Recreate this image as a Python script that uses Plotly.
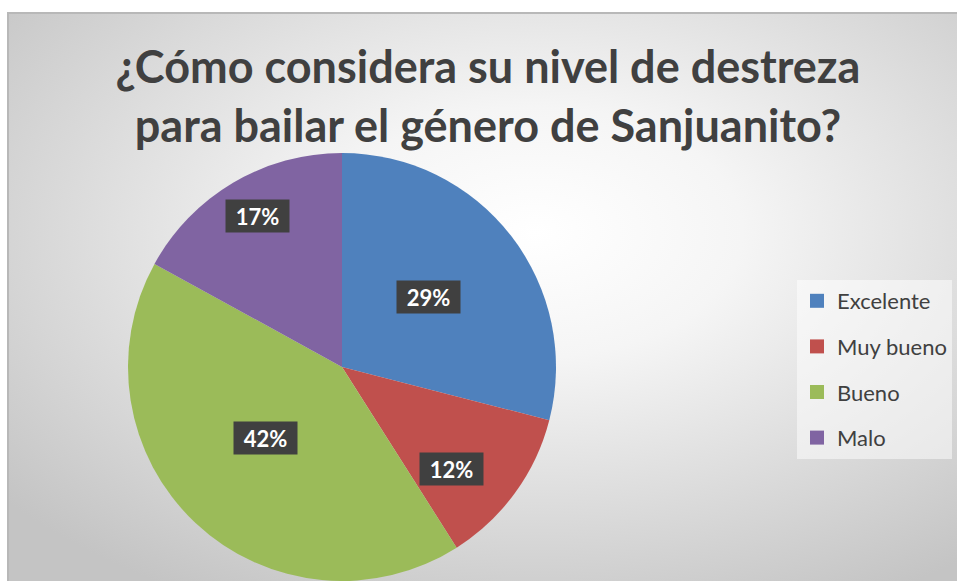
import base64
import math
import plotly.graph_objects as go

categories = ["Excelente", "Muy bueno", "Bueno", "Malo"]
percentages = [29, 12, 42, 17]
colors = ["#4f81bd", "#c0504d", "#9bbb59", "#8064a2"]

W, H = 957, 581


def px_x(sx):
    return sx / W


def px_y(sy):
    return 1 - sy / H


# pie placement in screen pixels (bottom touches the window edge)
cx, cy, r = 342, 367, 214
# excel "best fit" label spots: fraction of radius and small angle nudge
label_dist = [0.52, 0.70, 0.49, 0.81]
label_nudge = [-1, 7, 4, 1.5]

# radial gradient background like excel
svg = (
    '<svg xmlns="http://www.w3.org/2000/svg" width="960" height="580" preserveAspectRatio="none">'
    '<defs><radialGradient id="g" cx="0.55" cy="0.38" r="0.72">'
    '<stop offset="0" stop-color="#ffffff"/><stop offset="0.3" stop-color="#f5f5f5"/>'
    '<stop offset="1" stop-color="#c4c4c4"/></radialGradient></defs>'
    '<rect x="0" y="0" width="960" height="580" fill="url(#g)"/>'
    '<path d="M1 580 V1 H960" fill="none" stroke="#b8b8b8" stroke-width="2"/></svg>'
)
bg_src = "data:image/svg+xml;base64," + base64.b64encode(svg.encode()).decode()

fig = go.Figure()

fig.add_trace(go.Pie(
    labels=categories,
    values=percentages,
    sort=False,
    direction="clockwise",
    rotation=0,
    marker=dict(colors=colors, line=dict(width=0)),
    textinfo="none",
    hoverinfo="label+percent",
    showlegend=False,
    domain=dict(x=[px_x(cx - r), px_x(cx + r)], y=[max(0, px_y(cy + r)), px_y(cy - r)]),
))

# legend entries (spaced like the excel legend)
for name, col in zip(categories, colors):
    fig.add_trace(go.Scatter(
        x=[None], y=[None], mode="markers", name=name, legendgroup=name,
        marker=dict(symbol="square", size=14, color=col),
    ))

# data labels in dark boxes
total = sum(percentages)
annotations = []
start = 0
for val, f, nudge in zip(percentages, label_dist, label_nudge):
    mid = (start + val / 2) / total * 2 * math.pi + math.radians(nudge)
    start += val
    sx = cx + f * r * math.sin(mid)
    sy = cy - f * r * math.cos(mid)
    annotations.append(dict(
        x=px_x(sx), y=px_y(sy), xref="paper", yref="paper",
        xanchor="center", yanchor="middle",
        text=f"<b>{round(val / total * 100)}%</b>", showarrow=False,
        font=dict(family="Lato", size=22, color="white"),
        bgcolor="#404040", width=57, height=26, borderpad=3,
    ))

fig.update_layout(
    width=W, height=H,
    margin=dict(l=0, r=0, t=0, b=0),
    paper_bgcolor="white", plot_bgcolor="rgba(0,0,0,0)",
    title=dict(
        text="<b>¿Cómo considera su nivel de destreza<br>para bailar el género de Sanjuanito?</b>",
        x=px_x(488), xanchor="center", y=px_y(83), yanchor="top",
        font=dict(family="Lato", size=45, color="#404040"),
    ),
    xaxis=dict(visible=False), yaxis=dict(visible=False),
    legend=dict(
        x=px_x(797), y=px_y(280), xanchor="left", yanchor="top",
        bgcolor="rgba(255,255,255,0.5)", tracegroupgap=14,
        font=dict(family="Lato", size=22, color="#404040"),
    ),
    annotations=annotations,
    images=[dict(
        source=bg_src, xref="paper", yref="paper",
        x=px_x(7), y=px_y(12), sizex=960 / W, sizey=580 / H,
        xanchor="left", yanchor="top", sizing="stretch", layer="below",
    )],
)

# drop the default body margin so the 957x581 figure fills the window
fig.write_html(
    "out.html",
    config={"displayModeBar": False},
    post_script="document.body.style.margin='0';document.body.style.overflow='hidden';",
)
